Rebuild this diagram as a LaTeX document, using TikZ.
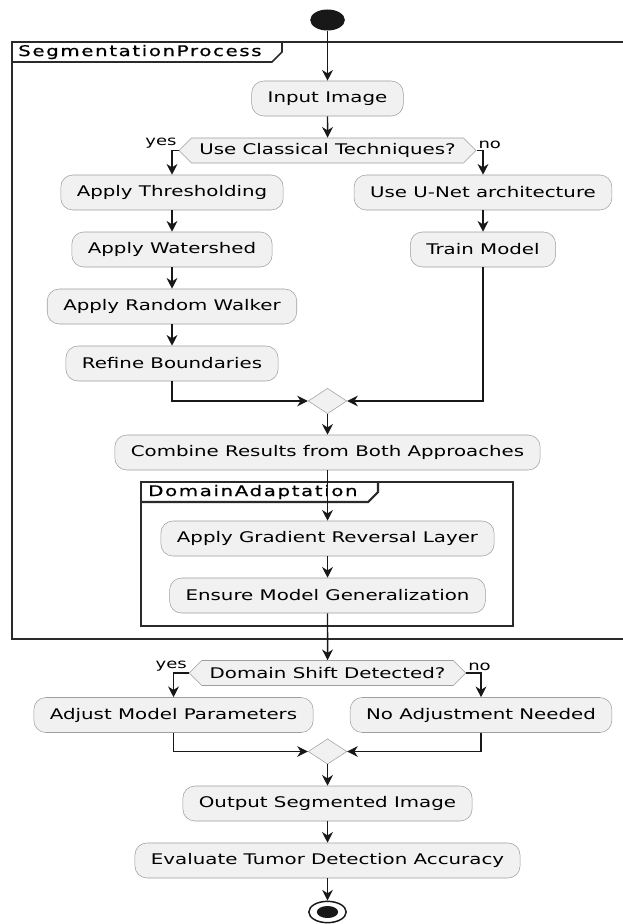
\documentclass[tikz,border=0pt]{standalone}
\usepackage{fontspec}
\newfontfamily\umlfont[FakeStretch=1.35]{DejaVu Sans}
\newfontfamily\tabfont[FakeStretch=1.35, LetterSpace=11, FakeBold=0.7]{DejaVu Sans}
\usetikzlibrary{arrows.meta, positioning, shapes.geometric, shapes.symbols}
\definecolor{actfill}{HTML}{F1F1F1}
\definecolor{actline}{HTML}{9E9E9E}
\definecolor{flow}{HTML}{181818}
\definecolor{framecol}{HTML}{2A2A2A}
\tikzset{->, >={Stealth[length=8pt, width=8pt, inset=2.5pt]}, node distance=42.75pt}

\begin{document}
\begin{tikzpicture}[x=0.75pt, y=-0.75pt,
    every node/.style={font=\umlfont\fontsize{11}{13}\selectfont},
    action/.style={draw=actline, fill=actfill, rounded corners=9pt, minimum height=26.25pt, inner xsep=12pt, text=black},
    choice/.style={draw=actline, fill=actfill, signal, signal to=west and east, signal pointer angle=90, minimum height=18.75pt, inner ysep=1pt, inner xsep=6pt, text=black},
    merge/.style={draw=actline, fill=actfill, diamond, minimum width=29pt, minimum height=19pt, inner sep=0pt},
    startdot/.style={ellipse, fill=flow, minimum width=26pt, minimum height=15.75pt, inner sep=0pt},
    endring/.style={ellipse, draw=flow, line width=1.1pt, fill=white, minimum width=28pt, minimum height=16pt, inner sep=0pt},
    enddot/.style={ellipse, fill=flow, minimum width=16pt, minimum height=9pt, inner sep=0pt},
    flowline/.style={draw=flow, line width=1.1pt},
    partition/.style={-, draw=framecol, line width=1.2pt},
    tabtitle/.style={font=\tabfont\fontsize{11}{13}\selectfont, inner sep=0pt, anchor=west},
    guard/.style={font=\umlfont\fontsize{10}{12}\selectfont, inner sep=1pt}]
    \useasboundingbox (0,0) rectangle (623,924);

    % partitions
    \draw[partition] (12,42) rectangle (627,639);
    \draw[partition] (12,62) -- (272,62) -- (282,52) -- (282,42);
    \node[tabtitle] (segTitle) at (18,52) {SegmentationProcess};
    \draw[partition, line width=1.6pt] (141,482) rectangle (513,626);
    \draw[partition, line width=1.6pt] (141,502) -- (368,502) -- (378,492) -- (378,482);
    \node[tabtitle] (domTitle) at (148,492) {DomainAdaptation};

    % activities
    \node[startdot] (start) at (327.5,20) {};
    \node[action] (input) at (327.5,98.5) {Input Image};
    \node[choice] (classical) at (327.5,150.5) {Use Classical Techniques?};
    \node[action] (thresh) at (172,192.5) {Apply Thresholding};
    \node[action, below of=thresh] (watershed) {Apply Watershed};
    \node[action, below of=watershed] (walker) {Apply Random Walker};
    \node[action, below of=walker] (refine) {Refine Boundaries};
    \node[action] (unet) at (483,192.5) {Use U-Net architecture};
    \node[action, below of=unet] (train) {Train Model};
    \node[merge] (join) at (327.5,401) {};
    \node[action] (combine) at (327.5,452.5) {Combine Results from Both Approaches};
    \node[action] (gradrev) at (327.5,538.5) {Apply Gradient Reversal Layer};
    \node[action, below of=gradrev] (generalize) {Ensure Model Generalization};
    \node[choice] (shift) at (327.5,673) {Domain Shift Detected?};
    \node[action] (adjust) at (173.5,715) {Adjust Model Parameters};
    \node[action] (noadjust) at (481,715) {No Adjustment Needed};
    \node[merge] (rejoin) at (327.5,751.5) {};
    \node[action] (output) at (327.5,803.5) {Output Segmented Image};
    \node[action, below of=output] (evaluate) {Evaluate Tumor Detection Accuracy};
    \node[endring] (stop) at (327.5,912) {};
    \node[enddot] (stopdot) at (stop) {};

    % flows
    \draw[flowline] (start) -- (input);
    \draw[flowline] (input) -- (classical);
    \draw[flowline] (classical) -| node[guard, pos=0, anchor=south east] {yes} (thresh);
    \draw[flowline] (classical) -| node[guard, pos=0, anchor=south west] {no} (unet);
    \draw[flowline] (thresh) -- (watershed);
    \draw[flowline] (watershed) -- (walker);
    \draw[flowline] (walker) -- (refine);
    \draw[flowline] (unet) -- (train);
    \draw[flowline] (refine) |- (join);
    \draw[flowline] (train) |- (join);
    \draw[flowline] (join) -- (combine);
    \draw[flowline] (combine) -- (gradrev);
    \draw[flowline] (gradrev) -- (generalize);
    \draw[flowline] (generalize) -- (shift);
    \draw[flowline] (shift) -| node[guard, pos=0, anchor=south east] {yes} (adjust);
    \draw[flowline] (shift) -| node[guard, pos=0, anchor=south west] {no} (noadjust);
    \draw[flowline] (adjust) |- (rejoin);
    \draw[flowline] (noadjust) |- (rejoin);
    \draw[flowline] (rejoin) -- (output);
    \draw[flowline] (output) -- (evaluate);
    \draw[flowline] (evaluate) -- (stop);
\end{tikzpicture}
\end{document}
